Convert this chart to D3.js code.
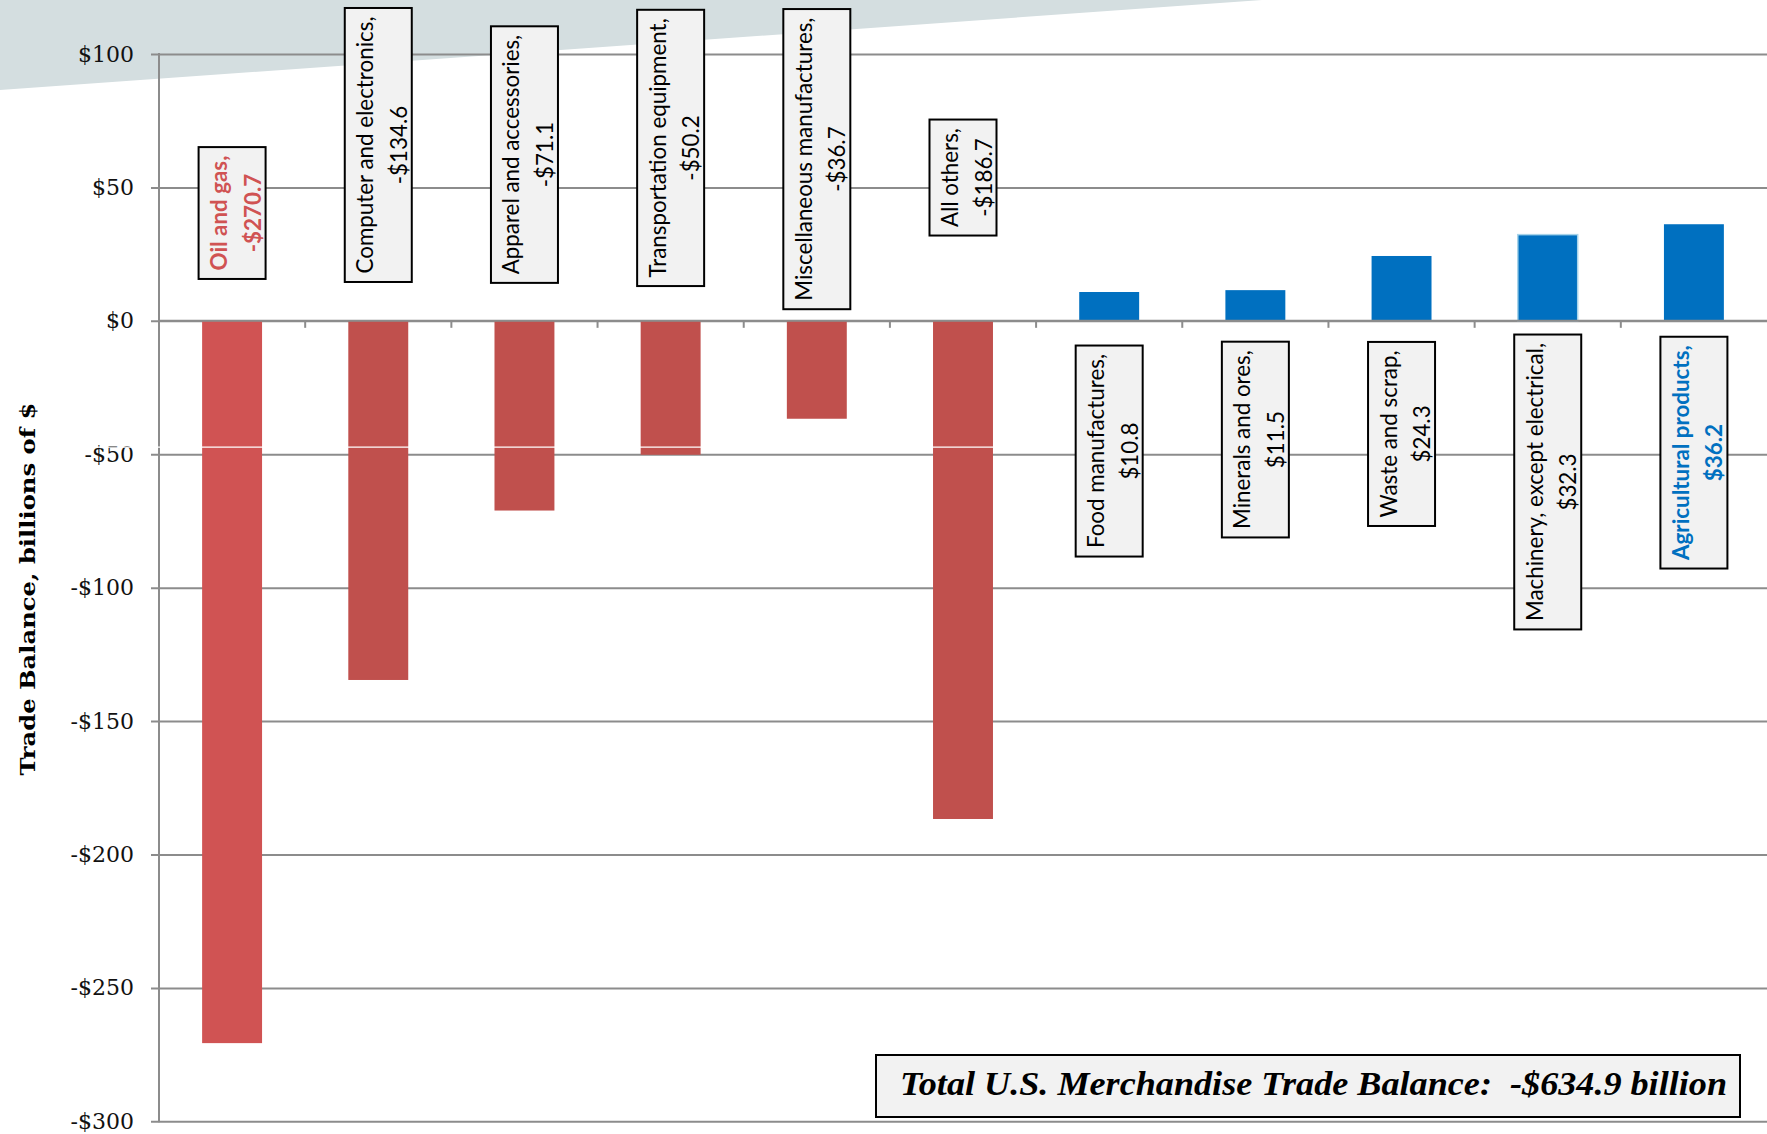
<!DOCTYPE html>
<html><head><meta charset="utf-8">
<script src="https://cdn.jsdelivr.net/npm/d3@7"></script>
<style>html,body{margin:0;padding:0;background:#fff;} svg{display:block}</style>
</head><body>
<svg id="chart" width="1767" height="1134"></svg>
<script>
// ---- data ----
const categories = ["Oil and gas","Computer and electronics","Apparel and accessories","Transportation equipment","Miscellaneous manufactures","All others","Food manufactures","Minerals and ores","Waste and scrap","Machinery, except electrical","Agricultural products"];
const balances = [-270.7,-134.6,-71.1,-50.2,-36.7,-186.7,10.8,11.5,24.3,32.3,36.2];
const yTicks = [100,50,0,-50,-100,-150,-200,-250,-300];
const labelCenters = [40.4,65.9,62.3,64.8,60.6,53.7,-48.8,-44.5,-42.4,-60.4,-49.4];
const highlighted = ["Oil and gas","Agricultural products"];
const yAxisTitle = "Trade Balance, billions of $";
const totalLabel = "Total U.S. Merchandise Trade Balance:  -$634.9 billion";
const artifactValue = -47.3;

// ---- layout ----
const W = 1767, H = 1134;
const svg = d3.select("#chart");
const y = d3.scaleLinear().domain([-300,100]).range([1121.3,54]);
const x = d3.scaleBand().domain(categories).range([159,W]).paddingInner(0).paddingOuter(0);
const barW = x.bandwidth()*0.41;
const RED = "#c0504d", RED_HI = "#d05353", BLUE = "#0070c0";

// background shape
svg.append("path").attr("d", d3.line()([[0,0],[1262,0],[0,90]]) + "Z").attr("fill","#d4dee0");

// gridlines + tick labels
const fmtTick = v => (v<0?"-":"") + "$" + Math.abs(v);
const gAxis = svg.append("g").attr("transform","translate(151,0)")
  .call(d3.axisLeft(y).tickValues(yTicks).tickSize(-(W-151)).tickPadding(17).tickFormat(fmtTick));
gAxis.attr("font-family","'DejaVu Serif', serif").attr("font-size",22);
gAxis.select(".domain").remove();
gAxis.selectAll(".tick line").attr("stroke","#8c8c8c").attr("stroke-width",2);
gAxis.selectAll(".tick text").attr("fill","#111");

// bars
const data = categories.map((c,i)=>({c, v:balances[i], lc:labelCenters[i]}));
svg.append("g").selectAll("rect").data(data).join("rect")
  .attr("x", d => x(d.c) + (x.bandwidth()-barW)/2)
  .attr("width", barW)
  .attr("y", d => y(Math.max(0,d.v)))
  .attr("height", d => Math.abs(y(d.v)-y(0)))
  .attr("fill", d => d.v<0 ? (highlighted.includes(d.c)?RED_HI:RED) : BLUE)
  .attr("stroke", d => d.c.startsWith("Machinery") ? "#a8d4ea" : null)
  .attr("stroke-width", 1.5);

// zero line and ticks
svg.append("line").attr("x1",159).attr("x2",W).attr("y1",y(0)).attr("y2",y(0))
  .attr("stroke","#8c8c8c").attr("stroke-width",2);
svg.append("g").selectAll("line").data(categories.slice(1)).join("line")
  .attr("x1",d=>x(d)).attr("x2",d=>x(d)).attr("y1",y(0)).attr("y2",y(0)+7)
  .attr("stroke","#8c8c8c").attr("stroke-width",2);
svg.append("line").attr("x1",159).attr("x2",159).attr("y1",y(100)-1).attr("y2",y(-300)+1)
  .attr("stroke","#8c8c8c").attr("stroke-width",2);

// white artifact line (under labels)
svg.append("line").attr("x1",0).attr("x2",W).attr("y1",y(artifactValue)).attr("y2",y(artifactValue))
  .attr("stroke","#fff").attr("stroke-width",1.2);

// y axis title
const yt = svg.append("text").text(yAxisTitle)
  .attr("transform","translate(27,589) rotate(-90)")
  .attr("text-anchor","middle").attr("dominant-baseline","central")
  .attr("font-family","'DejaVu Serif', serif").attr("font-weight","bold").attr("font-size",21)
  .attr("fill","#000");
yt.attr("textLength",373).attr("lengthAdjust","spacingAndGlyphs");

// label font size fit
const LF = "Lato, 'Open Sans', sans-serif";
const probe = svg.append("text").attr("font-family",LF).attr("font-size",100).text("Computer and electronics,");
const fs = 100*257/probe.node().getComputedTextLength();
probe.remove();

const fmtVal = v => (v<0?"-$":"$") + Math.abs(v).toFixed(1);
const labels = svg.append("g").selectAll("g").data(data).join("g")
  .attr("transform", d => `translate(${x(d.c)+x.bandwidth()/2},${y(d.lc)}) rotate(-90)`);
labels.each(function(d){
  const g = d3.select(this);
  const hi = highlighted.includes(d.c);
  const col = hi ? (d.v<0 ? RED_HI : BLUE) : "#000";
  const rect = g.append("rect");
  const lines = [d.c + ",", fmtVal(d.v)];
  const offs = [-13.5, 20];
  let maxL = 0;
  lines.forEach((t,i)=>{
    const tx = g.append("text").text(t).attr("x",0).attr("y",offs[i])
      .attr("text-anchor","middle").attr("dominant-baseline","central")
      .attr("font-family",LF).attr("font-size",fs).attr("fill",col)
      .attr("font-weight", hi ? "bold" : "normal");
    maxL = Math.max(maxL, tx.node().getComputedTextLength());
  });
  const h = maxL + 17, w = 67;
  rect.attr("x",-h/2).attr("y",-w/2).attr("width",h).attr("height",w)
    .attr("fill","#f2f2f2").attr("stroke","#000").attr("stroke-width",2);
});

// total box
svg.append("rect").attr("x",876).attr("y",1055).attr("width",864).attr("height",62)
  .attr("fill","#f2f2f2").attr("stroke","#000").attr("stroke-width",2);
svg.append("text").text(totalLabel).attr("x",1313.5).attr("y",1095)
  .attr("text-anchor","middle").style("white-space","pre")
  .attr("font-family","'Liberation Serif', serif").attr("font-weight","bold").attr("font-style","italic")
  .attr("font-size",33).attr("fill","#000")
  .attr("textLength",827).attr("lengthAdjust","spacingAndGlyphs");
</script>
</body></html>
